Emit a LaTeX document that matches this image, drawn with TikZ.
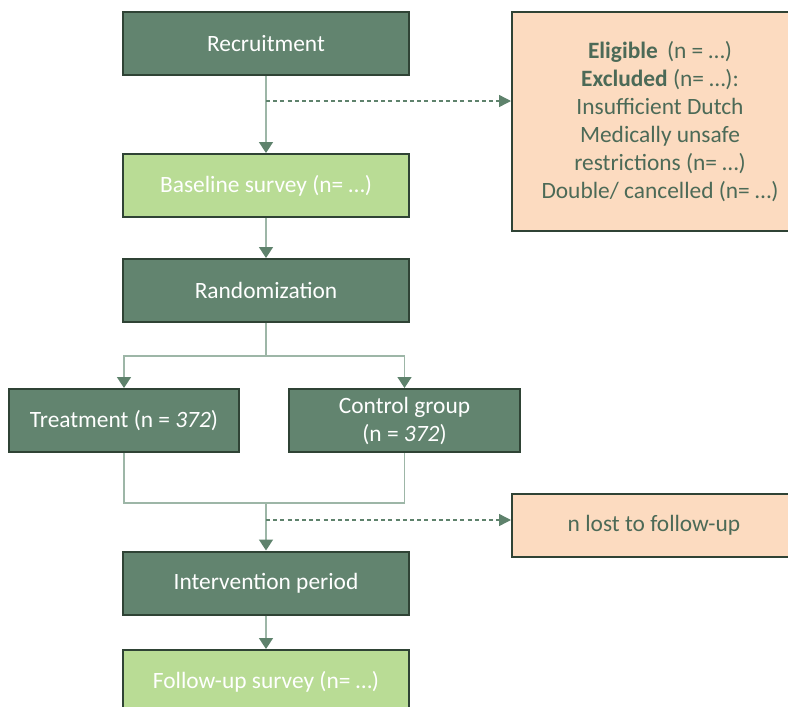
\documentclass[tikz,border=0pt]{standalone}
\usepackage{fontspec}
\setmainfont{Carlito}
\usetikzlibrary{arrows.meta}
\definecolor{darkbox}{HTML}{62846F}
\definecolor{lightbox}{HTML}{B9DC95}
\definecolor{peach}{HTML}{FCDBC0}
\definecolor{edge}{HTML}{2F4335}
\definecolor{linkline}{HTML}{9DB6A7}
\definecolor{tipgreen}{HTML}{5E826C}
\definecolor{peachtext}{HTML}{4C6A57}
\tikzset{stage/.style={rectangle,draw=edge,line width=1pt,fill=darkbox,text=white,minimum width=143pt,minimum height=31.5pt,align=center,inner sep=2pt,font=\fontsize{11.7}{14}\selectfont},
    survey/.style={stage,fill=lightbox},
    note/.style={stage,fill=peach,text=peachtext},
    link/.style={draw=linkline,line width=0.8pt},
    flow/.style={link,-{Triangle[width=7pt,length=5.5pt,color=tipgreen]}},
    side/.style={draw=tipgreen,line width=0.7pt,dash pattern=on 2pt off 1.6pt,-{Triangle[width=6pt,length=6pt]}}}

\begin{document}
\begin{tikzpicture}[x=0.5pt,y=-0.5pt]
        \useasboundingbox (0,0) rectangle (788,707);
        \node[stage] (recruit) at (266,43.5) {Recruitment};
        \node[survey] (base) at (266,185.5) {Baseline survey (n= …)};
        \node[stage] (random) at (266,290.5) {Randomization};
        \node[stage,minimum width=115pt] (treat) at (124,420.5) {Treatment (n = \textit{372})};
        \node[stage,minimum width=115.5pt] (control) at (404.5,420.5) {Control group\\(n = \textit{372})};
        \node[stage] (interv) at (266,583) {Intervention period};
        \node[survey] (follow) at (266,681.5) {Follow-up survey (n= …)};
        \node[note,minimum width=148pt,minimum height=109.5pt] (elig) at (660,121.5)
            {\textbf{Eligible}\, (n = …)\\\textbf{Excluded} (n= …):\\Insufficient Dutch\\Medically unsafe\\restrictions (n= …)\\Double/ cancelled (n= …)};
        \node[note,minimum width=142pt] (lost) at (654,525) {n lost to follow-up};

        \coordinate (excl) at (266,101);
        \coordinate (split) at (266,356);
        \coordinate (merge) at (266,503);
        \coordinate (drop) at (266,520);

        \draw[flow] (recruit.south) -- (base.north);
        \draw[side] (excl) -- (excl -| elig.west);
        \draw[flow] (base.south) -- (random.north);
        \draw[link] (random.south) -- (split);
        \draw[flow] (split) -| (treat.north);
        \draw[flow] (split) -| (control.north);
        \draw[link] (treat.south) |- (merge) -| (control.south);
        \draw[flow] (merge) -- (interv.north);
        \draw[side] (drop) -- (drop -| lost.west);
        \draw[flow] (interv.south) -- (follow.north);
    \end{tikzpicture}
\end{document}
